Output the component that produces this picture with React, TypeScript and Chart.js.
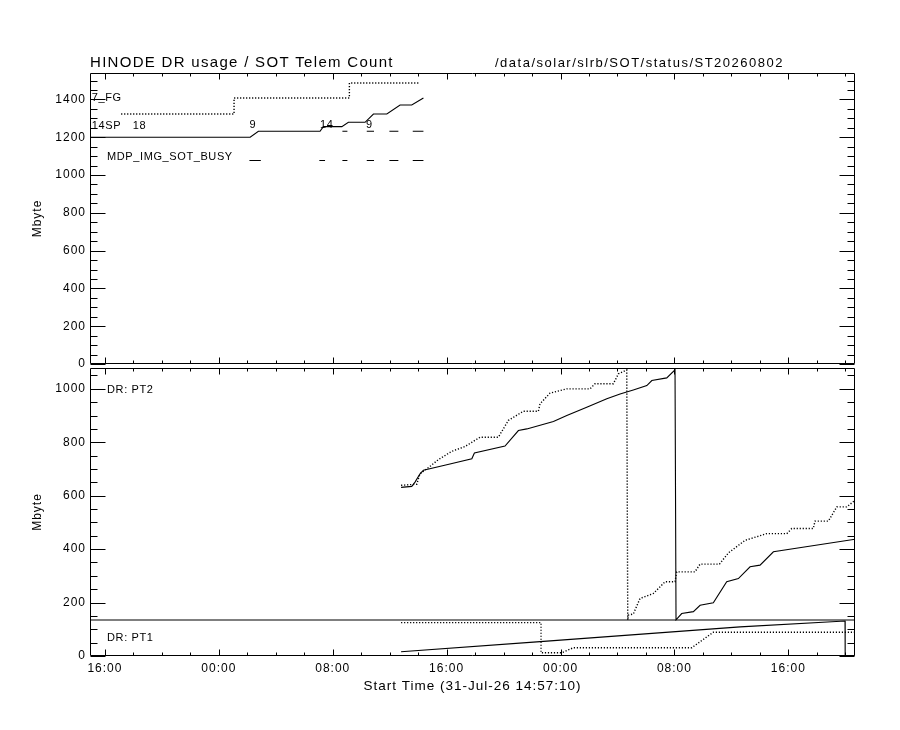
import { useEffect, useRef } from 'react';
import { Chart, registerables } from 'chart.js';

Chart.register(...registerables);

// time axis: hours counted from 31-Jul-26 00:00
const X_MIN = 14.953; // 14:57:10
const X_MAX = 68.68;
const X_TICKS = [16, 24, 32, 40, 48, 56, 64];
const X_TICK_LABELS = ['16:00', '00:00', '08:00', '16:00', '00:00', '08:00', '16:00'];

const TITLE = 'HINODE DR usage / SOT Telem Count';
const FILE_PATH = '/data/solar/slrb/SOT/status/ST20260802';
const X_TITLE = 'Start Time (31-Jul-26 14:57:10)';

// top panel: SOT telemetry count
const TOP_Y_MAX = 1540;
const TOP_Y_TICKS = [0, 200, 400, 600, 800, 1000, 1200, 1400];

const FG_HOURS = [17.14, 25.07, 25.07, 33.17, 33.17, 38.13];
const FG_MB = [1323, 1323, 1408, 1408, 1487, 1487];

const SP_HOURS = [14.953, 26.2, 26.78, 31.11, 31.34, 32.64, 33.1, 34.27, 34.86, 35.8, 36.73, 37.55, 38.37];
const SP_MB = [1200, 1200, 1232, 1232, 1256, 1256, 1279, 1279, 1323, 1323, 1371, 1371, 1408];

const SP_TAIL_START = [32.68, 34.39, 35.98, 37.62];
const SP_TAIL_END = [33.03, 34.9, 36.61, 38.37];
const SP_TAIL_MB = 1232;

const BUSY_START = [26.15, 31.06, 32.68, 34.39, 35.98, 37.62];
const BUSY_END = [26.95, 31.46, 33.03, 34.9, 36.61, 38.37];
const BUSY_MB = 1077;

const TOP_NOTE_TEXT = ['7_FG', '14SP', '18', 'MDP_IMG_SOT_BUSY', '9', '14', '9'];
const TOP_NOTE_HOURS = [15.08, 15.08, 17.95, 16.15, 26.15, 31.11, 34.34];
const TOP_NOTE_MB = [1394, 1244, 1244, 1080, 1250, 1250, 1250];

// bottom panel: data recorder partitions
const BOT_Y_MAX = 1078;
const BOT_Y_TICKS = [0, 200, 400, 600, 800, 1000];

const PT2_SOLID_HOURS = [
  36.8, 37.55, 37.78, 38.13, 38.37, 40.01, 41.77, 41.95, 44.1, 45.04,
  45.63, 47.5, 48.44, 49.84, 51.25, 52.18, 53.11, 54.06, 54.41, 55.46,
  56.04, 56.11, 56.12, 56.51, 57.33, 57.8, 58.73, 59.67, 60.49, 61.31,
  62.01, 62.95, 68.68,
];
const PT2_SOLID_MB = [
  631, 635, 651, 682, 695, 716, 738, 760, 786, 844,
  850, 878, 900, 931, 963, 981, 996, 1012, 1031, 1041,
  1071, 135, 135, 159, 166, 190, 199, 278, 290, 334,
  340, 390, 437,
];

const PT2_DOT_HOURS = [
  36.8, 37.9, 38.13, 38.84, 39.42, 40.36, 41.29, 42.35, 43.63, 44.34,
  45.39, 46.44, 46.56, 47.26, 48.44, 50.07, 50.42, 51.71, 52.06, 52.65,
  52.72, 52.76, 53.11, 53.58, 54.52, 55.34, 56.04, 56.16, 57.44, 57.8,
  59.16, 59.79, 60.96, 62.48, 63.89, 64.24, 65.75, 65.87, 66.81, 67.4,
  68.1, 68.68,
];
const PT2_DOT_MB = [
  639, 643, 682, 710, 735, 766, 784, 819, 819, 882,
  916, 916, 944, 984, 1000, 1000, 1019, 1019, 1056, 1071,
  135, 153, 157, 215, 234, 278, 278, 315, 315, 344,
  344, 386, 433, 458, 458, 477, 477, 505, 505, 558,
  558, 583,
];

const PT1_SIZE = 135;
const PT1_SOLID_HOURS = [36.8, 46.33, 60.61, 67.98, 67.99, 68.68];
const PT1_SOLID_MB = [16, 53, 109, 131, 0, 0];
const PT1_DOT_HOURS = [36.8, 46.63, 46.63, 48.09, 48.9, 57.22, 58.73, 68.68];
const PT1_DOT_MB = [125, 125, 12, 12, 31, 31, 89, 89];

const BOT_NOTE_TEXT = ['DR: PT2', 'DR: PT1'];
const BOT_NOTE_HOURS = [16.15, 16.15];
const BOT_NOTE_MB = [984, 57];

const FONT = '"Liberation Sans", Arial, sans-serif';

type Pt = { x: number; y: number | null };
const pts = (xs: number[], ys: number[]): Pt[] => xs.map((x, i) => ({ x, y: ys[i] }));
const segs = (starts: number[], ends: number[], y: number): Pt[] =>
  starts.flatMap((s, i) => [{ x: s, y }, { x: ends[i], y }, { x: ends[i], y: null }]);
const notes = (texts: string[], xs: number[], ys: number[]) => texts.map((text, i) => ({ text, x: xs[i], y: ys[i] }));

// IDL style box: inward ticks on all four sides, plus text annotations
const idlFrame = {
  id: 'idlFrame',
  beforeDraw(chart: any) {
    chart.ctx.letterSpacing = '1px';
  },
  afterDraw(chart: any, _args: any, opts: any) {
    const { ctx, chartArea: a } = chart;
    const xs = chart.scales.x;
    const ys = chart.scales.y;
    const L = Math.round(a.left) + 0.5;
    const R = Math.round(a.right) - 0.5;
    const T = Math.round(a.top) + 0.5;
    const B = Math.round(a.bottom) - 0.5;
    ctx.save();
    ctx.strokeStyle = '#000';
    ctx.lineWidth = 1;
    ctx.beginPath();
    ctx.rect(L, T, R - L, B - T);
    for (let h = Math.ceil(xs.min / 2) * 2; h <= xs.max; h += 2) {
      const px = Math.round(xs.getPixelForValue(h)) + 0.5;
      const len = (h - X_TICKS[0]) % 8 === 0 ? 6 : 3;
      ctx.moveTo(px, B);
      ctx.lineTo(px, B - len);
      ctx.moveTo(px, T);
      ctx.lineTo(px, T + len);
    }
    for (let v = 0; v <= ys.max; v += 50) {
      const py = Math.round(ys.getPixelForValue(v)) + 0.5;
      const len = v % 200 === 0 ? 15 : 7;
      ctx.moveTo(L, py);
      ctx.lineTo(L + len, py);
      ctx.moveTo(R, py);
      ctx.lineTo(R - len, py);
    }
    ctx.stroke();

    ctx.fillStyle = '#000';
    ctx.textBaseline = 'alphabetic';
    ctx.textAlign = 'left';
    ctx.font = `11px ${FONT}`;
    ctx.letterSpacing = '0.6px';
    for (const n of opts.notes || []) {
      ctx.fillText(n.text, xs.getPixelForValue(n.x), ys.getPixelForValue(n.y));
    }
    if (opts.titles) {
      ctx.font = `15px ${FONT}`;
      ctx.letterSpacing = '1.3px';
      ctx.fillText(TITLE, a.left, a.top - 6);
      ctx.font = `13px ${FONT}`;
      ctx.letterSpacing = '1.5px';
      ctx.fillText(FILE_PATH, 495, a.top - 6);
    }
    ctx.restore();
  },
};

const lineStyle = {
  borderColor: '#000',
  borderWidth: 1.1,
  pointRadius: 0,
  fill: false,
  tension: 0,
  spanGaps: false,
};

const dotted = { borderDash: [1.2, 1.8], borderWidth: 1.4 };

function makeConfig(
  datasets: any[],
  yMax: number,
  yTicks: number[],
  panelNotes: any[],
  padding: any,
  showX: boolean,
  titles: boolean,
): any {
  return {
    type: 'line',
    data: { datasets: datasets.map((d) => ({ ...lineStyle, ...d })) },
    plugins: [idlFrame],
    options: {
      responsive: false,
      animation: false,
      events: [],
      layout: { padding },
      plugins: {
        legend: { display: false },
        tooltip: { enabled: false },
        idlFrame: { notes: panelNotes, titles },
      },
      scales: {
        x: {
          type: 'linear',
          display: showX,
          min: X_MIN,
          max: X_MAX,
          afterFit: (s: any) => {
            s.height = showX ? 44 : 0;
          },
          afterBuildTicks: (s: any) => {
            s.ticks = X_TICKS.map((value) => ({ value }));
          },
          grid: { display: false, drawTicks: false },
          border: { display: false },
          ticks: {
            color: '#000',
            font: { size: 12 },
            padding: 5,
            maxRotation: 0,
            autoSkip: false,
            callback: (_v: any, i: number) => X_TICK_LABELS[i],
          },
          title: {
            display: true,
            text: X_TITLE,
            color: '#000',
            font: { size: 13.5 },
            padding: { top: 0, bottom: 6 },
          },
        },
        y: {
          type: 'linear',
          min: 0,
          max: yMax,
          afterFit: (s: any) => {
            s.width = 62;
          },
          afterBuildTicks: (s: any) => {
            s.ticks = yTicks.map((value) => ({ value }));
          },
          grid: { display: false, drawTicks: false },
          border: { display: false },
          ticks: { color: '#000', font: { size: 12 }, padding: 4, callback: (v: any) => String(v) },
          title: {
            display: true,
            text: 'Mbyte',
            color: '#000',
            font: { size: 12 },
            padding: { top: 2, bottom: 0 },
          },
        },
      },
    },
  };
}

export default function App() {
  const topRef = useRef<HTMLCanvasElement>(null);
  const botRef = useRef<HTMLCanvasElement>(null);

  useEffect(() => {
    document.body.style.margin = '0';
    Chart.defaults.font.family = FONT;
    if (!topRef.current || !botRef.current) return;

    const top = new Chart(
      topRef.current,
      makeConfig(
        [
          { data: pts(FG_HOURS, FG_MB), ...dotted },
          { data: pts(SP_HOURS, SP_MB) },
          { data: segs(SP_TAIL_START, SP_TAIL_END, SP_TAIL_MB) },
          { data: segs(BUSY_START, BUSY_END, BUSY_MB) },
        ],
        TOP_Y_MAX,
        TOP_Y_TICKS,
        notes(TOP_NOTE_TEXT, TOP_NOTE_HOURS, TOP_NOTE_MB),
        { left: 28, top: 73, right: 45, bottom: 366 },
        false,
        true,
      ),
    );

    const bottom = new Chart(
      botRef.current,
      makeConfig(
        [
          { data: pts(PT2_SOLID_HOURS, PT2_SOLID_MB) },
          { data: pts(PT2_DOT_HOURS, PT2_DOT_MB), ...dotted },
          { data: pts([X_MIN, X_MAX], [PT1_SIZE, PT1_SIZE]) },
          { data: pts(PT1_SOLID_HOURS, PT1_SOLID_MB) },
          { data: pts(PT1_DOT_HOURS, PT1_DOT_MB), ...dotted },
        ],
        BOT_Y_MAX,
        BOT_Y_TICKS,
        notes(BOT_NOTE_TEXT, BOT_NOTE_HOURS, BOT_NOTE_MB),
        { left: 28, top: 368, right: 45, bottom: 30 },
        true,
        false,
      ),
    );

    return () => {
      top.destroy();
      bottom.destroy();
    };
  }, []);

  return (
    <div style={{ position: 'relative', width: 900, height: 730, background: '#fff' }}>
      <canvas ref={topRef} width={900} height={730} style={{ position: 'absolute', left: 0, top: 0 }} />
      <canvas ref={botRef} width={900} height={730} style={{ position: 'absolute', left: 0, top: 0 }} />
    </div>
  );
}
